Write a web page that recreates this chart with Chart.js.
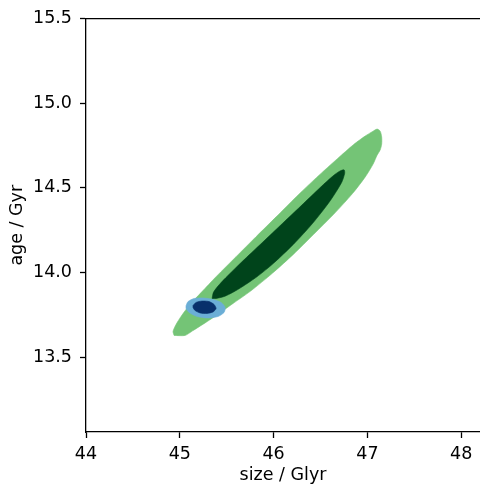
<!DOCTYPE html>
<html>
<head>
<meta charset="utf-8">
<script src="https://cdn.jsdelivr.net/npm/chart.js@4/dist/chart.umd.min.js"></script>
<style>
  html, body { margin: 0; padding: 0; background: #fff; overflow: hidden; }
  canvas { display: block; }
</style>
</head>
<body>
<canvas id="c" width="480" height="486"></canvas>
<script>
// ---- data (size / Glyr, age / Gyr) ----
// outer (95%) contour, green
const outerSize = [44.939, 44.928, 44.960, 45.013, 45.104, 45.232, 45.387, 45.600, 45.813, 46.027, 46.240, 46.459, 46.683, 46.853, 46.976, 47.061, 47.104, 47.136, 47.152, 47.152, 47.136, 47.104, 47.061, 46.981, 46.843, 46.640, 46.427, 46.213, 45.989, 45.755, 45.568, 45.381, 45.253, 45.136, 45.056, 44.939];
const outerAge  = [13.629, 13.653, 13.694, 13.741, 13.809, 13.885, 13.976, 14.094, 14.212, 14.329, 14.447, 14.562, 14.674, 14.756, 14.806, 14.835, 14.847, 14.835, 14.800, 14.759, 14.724, 14.694, 14.641, 14.568, 14.468, 14.344, 14.226, 14.109, 13.997, 13.891, 13.818, 13.744, 13.697, 13.656, 13.629, 13.629];
// inner (68%) contour, green
const innerSize = [45.344, 45.360, 45.445, 45.659, 45.877, 46.096, 46.315, 46.533, 46.645, 46.709, 46.752, 46.757, 46.725, 46.603, 46.416, 46.213, 45.995, 45.819, 45.627, 45.488, 45.387, 45.344];
const innerAge  = [13.847, 13.885, 13.944, 14.062, 14.176, 14.291, 14.406, 14.521, 14.576, 14.600, 14.606, 14.585, 14.532, 14.424, 14.291, 14.168, 14.053, 13.974, 13.903, 13.862, 13.847, 13.847];
// outer (95%) contour, blue
const blueOuterSize = [45.067, 45.088, 45.152, 45.248, 45.355, 45.440, 45.483, 45.472, 45.408, 45.301, 45.184, 45.099, 45.067, 45.067];
const blueOuterAge  = [13.806, 13.829, 13.847, 13.850, 13.841, 13.824, 13.794, 13.765, 13.741, 13.732, 13.741, 13.765, 13.788, 13.806];
// inner (68%) contour, blue
const blueInnerSize = [45.141, 45.173, 45.237, 45.312, 45.365, 45.387, 45.355, 45.291, 45.216, 45.163, 45.141, 45.141];
const blueInnerAge  = [13.806, 13.824, 13.832, 13.829, 13.812, 13.788, 13.768, 13.759, 13.762, 13.776, 13.794, 13.806];

const xTicks = [44, 45, 46, 47, 48];
const yTicks = [13.5, 14.0, 14.5, 15.0, 15.5];
const xRange = [44, 48.2];
const yRange = [13.059, 15.5];

const toPts = (xs, ys) => xs.map((x, i) => ({ x: x, y: ys[i] }));
const poly = (xs, ys, color, order) => ({
  data: toPts(xs, ys),
  showLine: true,
  fill: 'shape',
  backgroundColor: color,
  borderColor: color,
  borderWidth: 0.6,
  pointRadius: 0,
  tension: 0.25,
  order: order
});

const FONT = { family: '"DejaVu Sans", sans-serif', size: 17.5 };

new Chart(document.getElementById('c'), {
  type: 'scatter',
  data: {
    datasets: [
      poly(outerSize, outerAge, '#74c476', 4),
      poly(innerSize, innerAge, '#00441b', 3),
      poly(blueOuterSize, blueOuterAge, '#6baed6', 2),
      poly(blueInnerSize, blueInnerAge, '#08306b', 1)
    ]
  },
  options: {
    responsive: false,
    animation: false,
    events: [],
    layout: { padding: { top: 17, right: 0, bottom: 0, left: 0 } },
    plugins: { legend: { display: false }, tooltip: { enabled: false } },
    scales: {
      x: {
        type: 'linear', position: 'bottom',
        min: xRange[0], max: xRange[1],
        afterBuildTicks: s => { s.ticks = xTicks.map(v => ({ value: v })); },
        afterFit: s => { s.height = 54; },
        ticks: { font: FONT, color: '#000', padding: 6, maxRotation: 0, includeBounds: false,
                 callback: v => String(v) },
        grid: { drawOnChartArea: false, drawTicks: true, tickLength: 6, tickWidth: 1.3, tickColor: '#000' },
        border: { display: true, color: '#000', width: 1.3 },
        title: { display: true, text: 'size / Glyr', font: FONT, color: '#000', padding: { top: 0, bottom: 0 } }
      },
      xTop: {
        type: 'linear', position: 'top',
        min: xRange[0], max: xRange[1],
        afterFit: s => { s.height = 0; },
        ticks: { display: false },
        grid: { display: false, drawTicks: false },
        border: { display: true, color: '#000', width: 1.3 }
      },
      y: {
        type: 'linear', position: 'left',
        min: yRange[0], max: yRange[1],
        afterBuildTicks: s => { s.ticks = yTicks.map(v => ({ value: v })); },
        afterFit: s => { s.width = 86; },
        ticks: { font: FONT, color: '#000', padding: 8, includeBounds: false,
                 callback: v => Number(v).toFixed(1) },
        grid: { drawOnChartArea: false, drawTicks: true, tickLength: 6, tickWidth: 1.3, tickColor: '#000' },
        border: { display: true, color: '#000', width: 1.3 },
        title: { display: true, text: 'age / Gyr', font: FONT, color: '#000', padding: { top: 7, bottom: 0 } }
      }
    }
  }
});
</script>
</body>
</html>
